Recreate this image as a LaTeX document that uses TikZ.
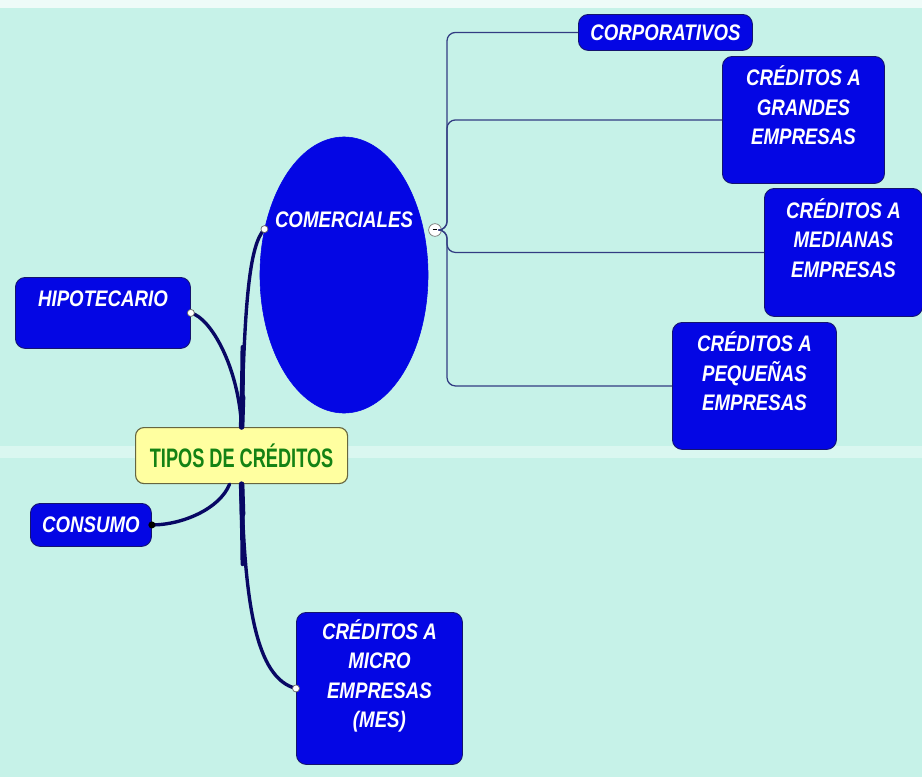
\documentclass[tikz,border=0pt]{standalone}
\usepackage{fontspec}
\usepackage{xcolor}
\usetikzlibrary{shapes.geometric}
\newfontfamily\leaffont[FakeStretch=0.83]{Liberation Sans}
\newfontfamily\rootfont[FakeStretch=0.68]{Liberation Sans}
\definecolor{bgaqua}{RGB}{198,242,232}
\definecolor{boxblue}{RGB}{4,6,228}
\definecolor{boxedge}{RGB}{20,20,110}
\definecolor{trunknavy}{RGB}{8,8,100}
\definecolor{twignavy}{RGB}{50,60,130}
\definecolor{rootyellow}{RGB}{255,255,160}
\definecolor{rootgreen}{RGB}{20,130,20}
\tikzset{
  leaf/.style={draw=boxedge, line width=0.6pt, fill=boxblue, rounded corners=7pt,
    text=white, align=center, anchor=north west, inner sep=0pt,
    font=\leaffont\bfseries\itshape\fontsize{16}{21}\selectfont},
  bigleaf/.style={ellipse, fill=boxblue, draw=boxblue, text=white, align=center, inner sep=0pt,
    font=\leaffont\bfseries\itshape\fontsize{16}{21}\selectfont},
  rootbox/.style={draw=black!60!rootyellow, line width=0.8pt, fill=rootyellow, rounded corners=6pt,
    text=rootgreen, anchor=north west, inner sep=0pt,
    font=\rootfont\bfseries\fontsize{19}{21}\selectfont},
  trunk/.style={draw=trunknavy, line width=2.4pt, line cap=round},
  twig/.style={draw=twignavy, line width=0.9pt, rounded corners=6pt},
  opendot/.style={draw=black!60, fill=white, line width=0.5pt}
}

\begin{document}
\begin{tikzpicture}[x=0.025cm, y=-0.025cm]
\useasboundingbox (0,0) rectangle (922,777);
\fill[bgaqua] (0,0) rectangle (922,777);
\fill[white!70!bgaqua] (0,0) rectangle (922,8);
\fill[white!35!bgaqua] (0,446) rectangle (922,458);

% centre
\node[rootbox, minimum width=5.3cm, minimum height=1.4cm] (tipos) at (135,427) {TIPOS DE CRÉDITOS};

% first level
\node[bigleaf, minimum width=4.2cm, minimum height=6.9cm] (comerciales) at (344,275) {\makebox[0pt]{COMERCIALES}\\[58pt]\mbox{}};
\node[leaf, minimum width=4.375cm, minimum height=1.775cm] (hipotecario) at (15,277) {HIPOTECARIO\\ \mbox{}};
\node[leaf, minimum width=3.025cm, minimum height=1.075cm] (consumo) at (30,503) {CONSUMO};
\node[leaf, minimum width=4.15cm, minimum height=3.8cm] (micro) at (296,612) {CRÉDITOS A\\MICRO\\EMPRESAS\\(MES)\\ \mbox{}};

% second level
\node[leaf, minimum width=4.35cm, minimum height=0.9cm] (corporativos) at (578,14) {CORPORATIVOS};
\node[leaf, minimum width=4.05cm, minimum height=3.175cm] (grandes) at (722,56) {CRÉDITOS A\\GRANDES\\EMPRESAS\\ \mbox{}};
\node[leaf, minimum width=3.95cm, minimum height=3.2cm] (medianas) at (764,188) {CRÉDITOS A\\MEDIANAS\\EMPRESAS\\ \mbox{}};
\node[leaf, minimum width=4.1cm, minimum height=3.175cm] (pequenas) at (672,322) {CRÉDITOS A\\PEQUEÑAS\\EMPRESAS\\ \mbox{}};

% thick branches
\draw[trunk] (tipos.north) .. controls +(3,-127) and +(-15,16) .. (comerciales.150);
\draw[trunk] (tipos.north) .. controls +(-3,-60) and +(20,5) .. (hipotecario.east);
\draw[trunk] ([xshift=-0.3cm]tipos.south) .. controls +(-10,25) and +(30,0) .. (consumo.east);
\draw[trunk] (tipos.south) .. controls +(3,120) and +(-40,-10) .. (micro.west);
\foreach \len/\wd in {80/2.9pt,55/3.4pt,30/3.9pt}{
  \draw[trunk, line width=\wd] (tipos.north) -- +(1,-\len);
  \draw[trunk, line width=\wd] (tipos.south) -- +(1,\len);
}
\filldraw[opendot] (comerciales.150) circle (2.5pt);
\filldraw[opendot] (hipotecario.east) circle (2.5pt);
\fill[black] (consumo.east) circle (2.5pt);
\filldraw[opendot] (micro.west) circle (2.5pt);

% thin branches
\node[circle, draw=black!55, fill=white, line width=0.5pt, inner sep=0pt, minimum size=9pt] (minus) at (435,230) {\rule[0.6pt]{3.5pt}{1pt}};
\coordinate (fork) at (447,230);
\foreach \kid in {corporativos,grandes,medianas,pequenas}
  \draw[twig] (minus.east) -- (fork) |- (\kid.west);
\end{tikzpicture}
\end{document}
